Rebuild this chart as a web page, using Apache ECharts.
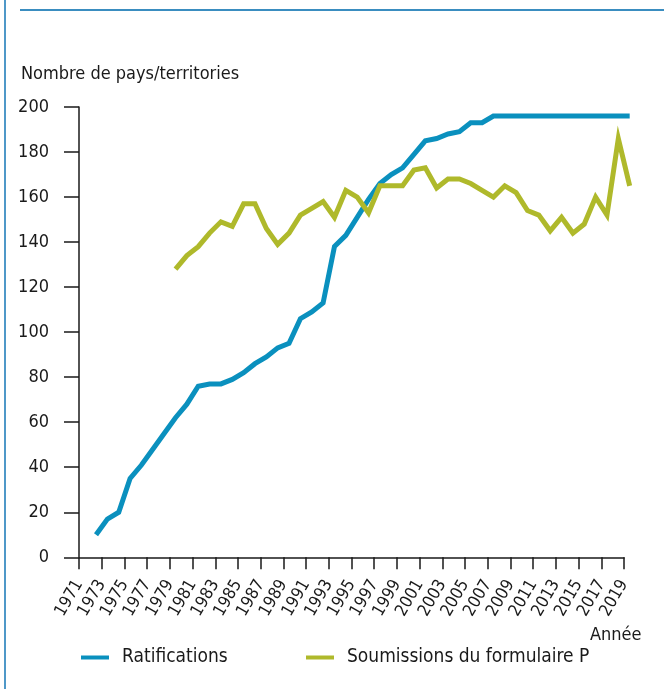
<!DOCTYPE html>
<html>
<head>
<meta charset="utf-8">
<script src="https://cdn.jsdelivr.net/npm/echarts@6/dist/echarts.min.js"></script>
<style>
html,body{margin:0;padding:0;background:#fff;}
#chart{width:664px;height:689px;}
</style>
</head>
<body>
<div id="chart"></div>
<script>
const years = [1972,1973,1974,1975,1976,1977,1978,1979,1980,1981,1982,1983,1984,1985,1986,1987,1988,1989,1990,1991,1992,1993,1994,1995,1996,1997,1998,1999,2000,2001,2002,2003,2004,2005,2006,2007,2008,2009,2010,2011,2012,2013,2014,2015,2016,2017,2018,2019];
const ratifications = [10,17,20,35,41,48,55,62,68,76,77,77,79,82,86,89,93,95,106,109,113,138,143,151,159,166,170,173,179,185,186,188,189,193,193,196,196,196,196,196,196,196,196,196,196,196,196,196];
const soumissions = [null,null,null,null,null,null,null,128,134,138,144,149,147,157,157,146,139,144,152,155,158,151,163,160,153,165,165,165,172,173,164,168,168,166,163,160,165,162,154,152,145,151,144,148,160,152,186,165];
const seriesNames = ['Ratifications','Soumissions du formulaire P'];
const yAxisTitle = 'Nombre de pays/territories';
const xAxisTitle = 'Année';

const FONT = "'DejaVu Sans Condensed','Liberation Sans Narrow',sans-serif";
const BLUE = '#0a90be';
const GREEN = '#afb92b';
const INK = '#1a1a1a';

// visible axis spans 1971..2019 over 545px; plotting grid extends half a year further each way
const PX_PER_YEAR = 545 / 48;
const plotRight = 664 - (79 + 49 * PX_PER_YEAR);

const chart = echarts.init(document.getElementById('chart'), null, {renderer:'canvas'});
chart.setOption({
  animation:false,
  backgroundColor:'#fff',
  textStyle:{fontFamily:FONT},
  grid:[
    {left:79,right:40,top:107,bottom:131.7,containLabel:false},
    {left:79,right:plotRight,top:107,bottom:131.7,containLabel:false}
  ],
  xAxis:[{
    gridIndex:0, type:'value', min:1971, max:2019, interval:2,
    axisLine:{show:true,onZero:false,lineStyle:{color:INK,width:1.5}},
    axisTick:{show:true,inside:false,length:12,lineStyle:{color:INK,width:1.5}},
    splitLine:{show:false},
    axisLabel:{rotate:60,margin:24,fontSize:17,color:INK,fontFamily:FONT,formatter:v=>String(v)}
  },{
    gridIndex:1, type:'value', min:1970.5, max:2019.5, show:false,
    axisLine:{show:false},axisTick:{show:false},axisLabel:{show:false},splitLine:{show:false}
  }],
  yAxis:[{
    gridIndex:0, type:'value', min:0, max:200, interval:20,
    axisLine:{show:true,lineStyle:{color:INK,width:1.5}},
    axisTick:{show:true,inside:false,length:15,lineStyle:{color:INK,width:1.5}},
    splitLine:{show:false},
    axisLabel:{margin:30,fontSize:18,color:INK,fontFamily:FONT}
  },{
    gridIndex:1, type:'value', min:0, max:200, show:false,
    axisLine:{show:false},axisTick:{show:false},axisLabel:{show:false},splitLine:{show:false}
  }],
  legend:[{
    data:[seriesNames[0]], left:76, top:643, itemWidth:28, itemHeight:4, icon:'rect',
    textStyle:{fontSize:19,color:INK,fontFamily:FONT,padding:[0,0,0,8]}
  },{
    data:[seriesNames[1]], left:301, top:643, itemWidth:28, itemHeight:4, icon:'rect',
    textStyle:{fontSize:19,color:INK,fontFamily:FONT,padding:[0,0,0,8]}
  }],
  graphic:[
    {type:'line',shape:{x1:5,y1:0,x2:5,y2:689},style:{stroke:'#4f98c8',lineWidth:2}},
    {type:'line',shape:{x1:20,y1:10,x2:664,y2:10},style:{stroke:'#3a8dc0',lineWidth:2}},
    {type:'text',left:21,top:65,style:{text:yAxisTitle,fontSize:18,fontFamily:FONT,fill:INK}},
    {type:'text',left:590,top:626,style:{text:xAxisTitle,fontSize:18,fontFamily:FONT,fill:INK}}
  ],
  series:[{
    name:seriesNames[0], type:'line', xAxisIndex:1, yAxisIndex:1, clip:false, showSymbol:false, symbol:'none',
    color:BLUE, lineStyle:{width:5,color:BLUE,join:'miter',cap:'butt'},
    data:years.map((y,i)=>[y,ratifications[i]])
  },{
    name:seriesNames[1], type:'line', xAxisIndex:1, yAxisIndex:1, clip:false, showSymbol:false, symbol:'none',
    color:GREEN, lineStyle:{width:5,color:GREEN,join:'miter',cap:'butt'},
    data:years.map((y,i)=>[y,soumissions[i]])
  }]
});
</script>
</body>
</html>
